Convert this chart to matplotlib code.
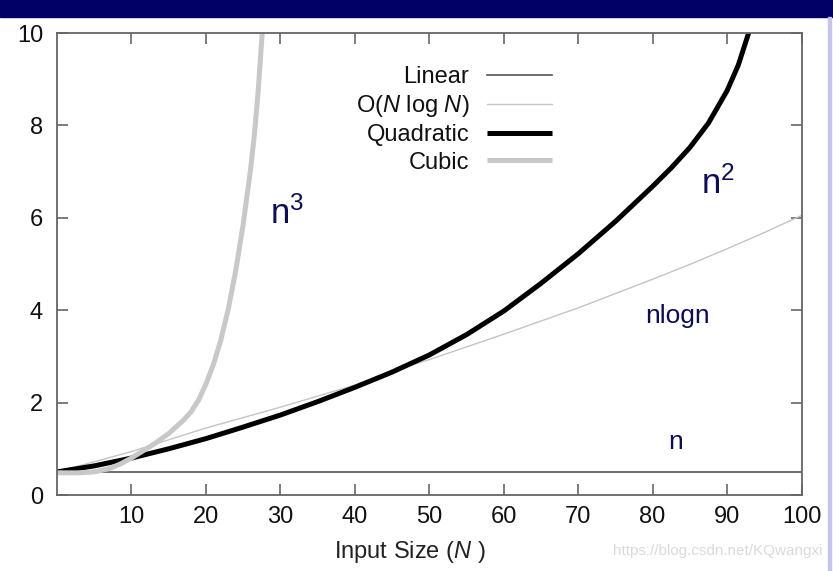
import matplotlib
matplotlib.use("Agg")
import matplotlib.pyplot as plt
from matplotlib.patches import Rectangle

plt.rcParams["font.family"] = ["Liberation Sans", "DejaVu Sans"]
plt.rcParams["mathtext.fontset"] = "custom"
plt.rcParams["mathtext.rm"] = "Liberation Sans"
plt.rcParams["mathtext.it"] = "Liberation Sans:italic"

# values
lin_x = [0, 100]
lin_y = [0.5, 0.5]

nlogn_x = [0, 5, 10, 20, 30, 40, 47, 50, 60, 70, 75, 80, 85, 90, 95, 100]
nlogn_y = [0.5, 0.72, 0.94, 1.45, 1.9, 2.38, 2.78, 2.93, 3.48, 4.05, 4.36, 4.67,
           4.99, 5.33, 5.68, 6.05]

quad_x = [0, 5, 10, 15, 20, 25, 30, 35, 40, 45, 50, 55, 60, 65, 70, 75, 80,
          82.5, 85, 87.5, 90, 91.5, 93]
quad_y = [0.5, 0.63, 0.8, 1.0, 1.22, 1.47, 1.73, 2.02, 2.33, 2.66, 3.03, 3.47,
          3.98, 4.58, 5.22, 5.92, 6.68, 7.08, 7.52, 8.05, 8.75, 9.3, 10.05]

cub_x = [0, 3, 5, 7, 8.5, 10, 11.5, 13, 15, 17, 18, 19, 20, 21, 22, 23, 24, 25,
         26, 26.5, 27, 27.5, 27.7]
cub_y = [0.48, 0.48, 0.5, 0.57, 0.67, 0.8, 0.95, 1.1, 1.33, 1.62, 1.8, 2.05, 2.4,
         2.82, 3.35, 4.02, 4.85, 5.85, 7.05, 7.78, 8.7, 9.85, 10.3]

labels = ["Linear", r"O($N$ log $N$)", "Quadratic", "Cubic"]
x_ticks = [10, 20, 30, 40, 50, 60, 70, 80, 90, 100]
y_ticks = [0, 2, 4, 6, 8, 10]

W, H = 833, 571
fig = plt.figure(figsize=(W / 100, H / 100), dpi=100)
fig.patch.set_facecolor("white")
ax = fig.add_axes([57 / W, 1 - 495 / H, (801.5 - 57) / W, (495 - 33) / H])

ax.plot(lin_x, lin_y, color="#555555", lw=1.2, label=labels[0])
ax.plot(nlogn_x, nlogn_y, color="#c4c4c4", lw=1.0, label=labels[1])
ax.plot(quad_x, quad_y, color="black", lw=3.6, label=labels[2], solid_capstyle="butt")
ax.plot(cub_x, cub_y, color="#c8c8c8", lw=3.6, label=labels[3], solid_capstyle="butt")

ax.set_xlim(0, 100)
ax.set_ylim(0, 10)
ax.set_xticks(x_ticks)
ax.set_yticks(y_ticks)
ax.tick_params(direction="in", length=8, width=1.2, color="#666666",
               top=True, right=True, labelsize=17, labelcolor="#111111")
ax.tick_params(axis="y", pad=10)
ax.tick_params(axis="x", pad=8)
for sp in ax.spines.values():
    sp.set_color("#666666")
    sp.set_linewidth(1.3)

ax.set_xlabel(r"Input Size ($N$ )", fontsize=17, color="#222222")
ax.xaxis.set_label_coords((410 - 57) / (801.5 - 57), -0.095)

leg = ax.legend(loc="upper right", bbox_to_anchor=(552 / W, 1 - 66 / H),
                bbox_transform=fig.transFigure, frameon=False, markerfirst=False,
                fontsize=17, handlelength=2.75, handletextpad=0.76,
                labelspacing=0.22, borderpad=0, borderaxespad=0)
for t in leg.get_texts():
    t.set_color("#111111")

navy = "#0c0c5c"
ax.text(30.9, 6.1, r"n$^{\mathrm{3}}$", color=navy, fontsize=25, ha="center", va="center")
ax.text(88.8, 6.75, r"n$^{\mathrm{2}}$", color=navy, fontsize=25, ha="center", va="center")
ax.text(83.4, 3.87, "nlogn", color=navy, fontsize=19, ha="center", va="center")
ax.text(83.1, 1.15, "n", color=navy, fontsize=19, ha="center", va="center")

# slide decoration: title bar and right border
fig.patches.append(Rectangle((0, 1 - 17 / H), 1, 17 / H, transform=fig.transFigure,
                             color="#000066", zorder=0))
fig.patches.append(Rectangle((828 / W, 0), 2.5 / W, 1 - 17 / H, transform=fig.transFigure,
                             color="#c4c4ee", zorder=0))
fig.text(823 / W, 1 - 551 / H, "https://blog.csdn.net/KQwangxi", color="#dadada",
         fontsize=11, ha="right", va="center")

fig.savefig("out.png", dpi=100)
